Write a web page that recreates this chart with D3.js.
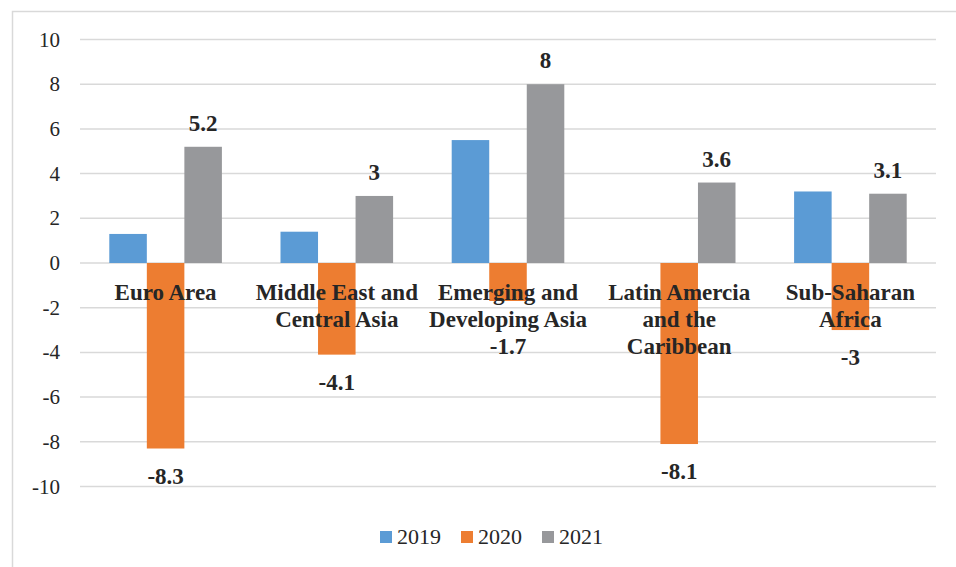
<!DOCTYPE html>
<html>
  <head>
    <meta charset="utf-8">
    <style>
      body { margin: 0; }
      html body svg#chart text, html body svg#chart text tspan {
        font-family: "Liberation Serif", "Times New Roman", Tinos, Times, serif !important;
      }
    </style>
  </head>
  <body>
<svg id="chart" width="956" height="567"></svg>
<script src="https://d3js.org/d3.v7.min.js"></script>
<script>

var categories = [["Euro Area"], ["Middle East and", "Central Asia"], ["Emerging and", "Developing Asia"],
                  ["Latin Amercia", "and the", "Caribbean"], ["Sub-Saharan", "Africa"]];
var series = ["2019", "2020", "2021"];
var v2019 = [1.3, 1.4, 5.5, null, 3.2];
var v2020 = [-8.3, -4.1, -1.7, -8.1, -3];
var v2021 = [5.2, 3, 8, 3.6, 3.1];
var yTicks = [10, 8, 6, 4, 2, 0, -2, -4, -6, -8, -10];

var colors = ["#5b9bd5", "#ed7d31", "#97989b"];
var FONT = "Liberation Serif, Times New Roman, serif";
// Excel moved the -1.7 label down to clear the category text
var labelNudge = {"2020-2": 18};

var svg = d3.select("#chart");

// outer frame (no right edge visible)
svg.append("path")
    .attr("d", "M957,11.5 H12.5 V568")
    .attr("fill", "none")
    .attr("stroke", "#d9d9d9")
    .attr("stroke-width", 1.5);

var x0 = d3.scaleBand().domain(d3.range(categories.length)).range([80, 936]);
var x1 = d3.scaleBand().domain(series).range([29.3, x0.bandwidth() - 29.3]);
var y = d3.scaleLinear().domain([-10, 10]).range([486.5, 39.5]);

svg.selectAll("line.grid").data(yTicks).enter().append("line")
    .attr("class", "grid")
    .attr("x1", 80).attr("x2", 936)
    .attr("y1", function(d) { return y(d); })
    .attr("y2", function(d) { return y(d); })
    .attr("stroke", "#d9d9d9")
    .attr("stroke-width", 1.5);

svg.selectAll("text.tick").data(yTicks).enter().append("text")
    .attr("class", "tick")
    .attr("x", 60)
    .attr("y", function(d) { return y(d) + 7; })
    .attr("text-anchor", "end")
    .attr("font-size", 21)
    .attr("font-family", FONT)
    .attr("fill", "#262626")
    .text(function(d) { return d; });

var values = [v2019, v2020, v2021];
var bars = [];
series.forEach(function(s, si) {
  values[si].forEach(function(v, ci) {
    if (v !== null) bars.push({s: s, si: si, ci: ci, v: v});
  });
});

svg.selectAll("rect.bar").data(bars).enter().append("rect")
    .attr("class", "bar")
    .attr("x", function(d) { return x0(d.ci) + x1(d.s); })
    .attr("width", x1.bandwidth())
    .attr("y", function(d) { return y(Math.max(0, d.v)); })
    .attr("height", function(d) { return Math.abs(y(d.v) - y(0)); })
    .attr("fill", function(d) { return colors[d.si]; });

// category labels sit inside the plot just below zero, one text per line
var catLines = [];
categories.forEach(function(lines, ci) {
  lines.forEach(function(t, li) { catLines.push({ci: ci, li: li, t: t}); });
});
svg.selectAll("text.cat").data(catLines).enter().append("text")
    .attr("class", "cat")
    .attr("font-weight", "bold")
    .attr("font-size", 23)
    .attr("font-family", FONT)
    .attr("fill", "#262626")
    .attr("text-anchor", "middle")
    .attr("x", function(d) { return x0(d.ci) + x0.bandwidth() / 2; })
    .attr("y", function(d) { return y(0) + 37 + d.li * 27; })
    .text(function(d) { return d.t; });

// data labels only on 2020 and 2021
svg.selectAll("text.val").data(bars.filter(function(d) { return d.si > 0; }))
  .enter().append("text")
    .attr("class", "val")
    .attr("font-weight", "bold")
    .attr("font-size", 23)
    .attr("font-family", FONT)
    .attr("fill", "#262626")
    .attr("text-anchor", "middle")
    .attr("x", function(d) { return x0(d.ci) + x1(d.s) + x1.bandwidth() / 2; })
    .attr("y", function(d) {
      var nudge = labelNudge[d.s + "-" + d.ci] || 0;
      return d.v >= 0 ? y(d.v) - 16 : y(d.v) + 35 + nudge;
    })
    .text(function(d) { return d.v; });

svg.selectAll("rect.key").data(series).enter().append("rect")
    .attr("class", "key")
    .attr("x", function(d, i) { return 380 + i * 81; })
    .attr("y", 531)
    .attr("width", 12).attr("height", 12)
    .attr("fill", function(d, i) { return colors[i]; });
svg.selectAll("text.key").data(series).enter().append("text")
    .attr("class", "key")
    .attr("x", function(d, i) { return 397 + i * 81; })
    .attr("y", 544)
    .attr("font-size", 22)
    .attr("font-family", FONT)
    .attr("fill", "#262626")
    .text(function(d) { return d; });

</script>
  </body>
</html>
